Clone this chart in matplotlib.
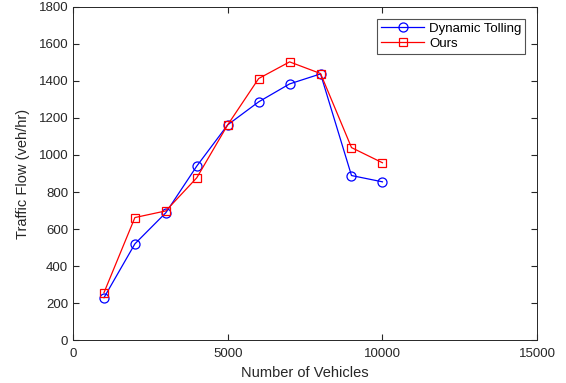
import matplotlib
matplotlib.use("Agg")
import matplotlib.pyplot as plt

plt.rcParams['font.family'] = ['Liberation Sans', 'DejaVu Sans']

vehicles = [1000, 2000, 3000, 4000, 5000, 6000, 7000, 8000, 9000, 10000]
dynamic_tolling = [229, 520, 688, 940, 1163, 1287, 1384, 1438, 889, 855]
ours = [256, 662, 698, 877, 1163, 1413, 1503, 1440, 1040, 958]
xticks = [0, 5000, 10000, 15000]
yticks = list(range(0, 2000, 200))

fig = plt.figure(figsize=(5.66, 3.83), dpi=100)
ax = fig.add_axes([0.129, 0.112, 0.820, 0.870])
ax.plot(vehicles, dynamic_tolling, '-o', color='#0000ff', lw=0.9, ms=6.5,
        mfc='none', mec='#0000ff', mew=0.9, label='Dynamic Tolling')
ax.plot(vehicles, ours, '-s', color='#ff0000', lw=0.9, ms=5.5,
        mfc='none', mec='#ff0000', mew=0.9, label='Ours')
ax.set_xlim(0, 15000)
ax.set_ylim(0, 1800)
ax.set_xticks(xticks)
ax.set_yticks(yticks)
ax.tick_params(direction='in', top=True, right=True, labelsize=9.5, colors='#262626', length=4)
ax.tick_params(axis='x', pad=6)
for s in ax.spines.values():
    s.set_color('#262626')
    s.set_linewidth(0.7)
ax.set_xlabel('Number of Vehicles', fontsize=10.5, color='#262626', labelpad=4)
ax.set_ylabel('Traffic Flow (veh/hr)', fontsize=10.5, color='#262626', labelpad=6)
leg = ax.legend(loc='upper right', fontsize=9.5, frameon=True, fancybox=False,
                borderaxespad=0.9, handlelength=3.2, borderpad=0.3, labelspacing=0.2,
                handletextpad=0.4)
leg.get_frame().set_edgecolor('#262626')
leg.get_frame().set_linewidth(0.8)
fig.savefig('out.png', dpi=100)
